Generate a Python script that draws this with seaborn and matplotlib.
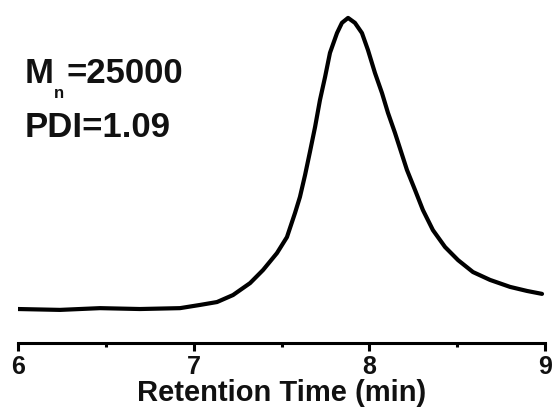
import numpy as np
import pandas as pd
import matplotlib
matplotlib.use("Agg")
import matplotlib.pyplot as plt
from matplotlib.ticker import MultipleLocator
import seaborn as sns

# GPC trace (normalised detector signal)
time_min = [6.000, 6.239, 6.467, 6.694, 6.922, 7.036, 7.133, 7.224, 7.321, 7.395,
            7.474, 7.531, 7.577, 7.605, 7.634, 7.662, 7.691, 7.719, 7.748, 7.776,
            7.816, 7.844, 7.879, 7.918, 7.958, 7.992, 8.032, 8.072, 8.106, 8.146,
            8.214, 8.260, 8.305, 8.362, 8.431, 8.505, 8.590, 8.687, 8.801, 8.898,
            8.983]
signal = [0.000, -0.003, 0.003, 0.000, 0.003, 0.014, 0.024, 0.048, 0.089, 0.134,
          0.192, 0.247, 0.330, 0.385, 0.460, 0.540, 0.625, 0.718, 0.797, 0.880,
          0.948, 0.983, 1.000, 0.983, 0.948, 0.890, 0.811, 0.742, 0.674, 0.605,
          0.478, 0.409, 0.340, 0.271, 0.213, 0.168, 0.127, 0.100, 0.076, 0.062,
          0.052]

x_ticks = [6, 7, 8, 9]
mn_value = "25000"
pdi_value = "1.09"

df = pd.DataFrame({"time": time_min, "signal": signal})

sns.set_style("ticks")
plt.rcParams["font.family"] = ["Liberation Sans", "DejaVu Sans"]
plt.rcParams["font.weight"] = "bold"

W, H = 552, 412
fig = plt.figure(figsize=(W / 100, H / 100), dpi=100)
ax = fig.add_axes([18 / W, (H - 342.5) / H, 527 / W, 334.5 / H])

sns.lineplot(data=df, x="time", y="signal", color="black", linewidth=3, ax=ax)
ax.lines[0].set_solid_joinstyle("round")

ax.set_xlim(6, 9)
ax.set_ylim(-0.115, 1.034)
ax.set_xticks(x_ticks)
ax.set_xticklabels([str(t) for t in x_ticks], fontsize=18, fontweight="bold", color="#111111")
ax.xaxis.set_minor_locator(MultipleLocator(0.5))
ax.tick_params(axis="x", which="major", direction="out", length=6, width=2.2, pad=3, color="black")
ax.tick_params(axis="x", which="minor", direction="out", length=3, width=2.2, color="black")
ax.set_yticks([])
ax.set_ylabel("")
ax.set_xlabel("Retention Time (min)", fontsize=21, fontweight="bold", color="#111111", labelpad=0)

for side in ["left", "right", "top"]:
    ax.spines[side].set_visible(False)
ax.spines["bottom"].set_linewidth(2.2)
ax.spines["bottom"].set_color("black")

txt = dict(fontsize=25, fontweight="bold", color="#111111", va="baseline")
fig.text(25 / W, (H - 83) / H, "M", **txt)
fig.text(54 / W, (H - 98) / H, "n", fontsize=12, fontweight="bold", color="#111111", va="baseline")
fig.text(66 / W, (H - 83) / H, "=" + mn_value, **txt)
fig.text(25 / W, (H - 137) / H, "PDI=" + pdi_value, **txt)

fig.savefig("out.png", dpi=100)
